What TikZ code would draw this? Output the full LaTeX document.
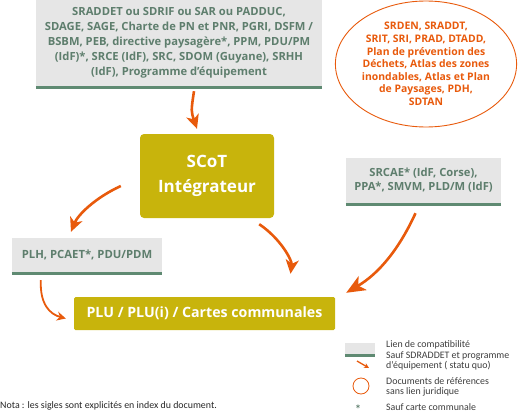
\documentclass[tikz,border=0pt]{standalone}
\usepackage{fontspec}
\setmainfont{Open Sans}
\newfontfamily\legfont{Carlito}
\usetikzlibrary{arrows.meta,shapes.geometric,calc}
\definecolor{grayfill}{HTML}{E6E6E6}
\definecolor{barGreen}{HTML}{5F8A72}
\definecolor{txtGreen}{HTML}{5E7E6D}
\definecolor{olive}{HTML}{C8B40C}
\definecolor{orng}{HTML}{E85A0C}
\definecolor{legtxt}{HTML}{3C3C3C}
\tikzset{
  graybox/.style={fill=grayfill, draw=none, inner sep=0pt, align=center, text=txtGreen, font=\bfseries},
  olivebox/.style={fill=olive, draw=none, rounded corners=4pt, inner sep=0pt, align=center, text=white, font=\bfseries},
  gbar/.style={draw=barGreen, line width=3pt},
  conn/.style={draw=orng, line width=2.6pt, -{Stealth[length=14pt,width=13pt,inset=4pt]}},
  bigconn/.style={draw=orng, line width=2.6pt, -{Stealth[length=19pt,width=16pt,inset=5pt]}},
  thinconn/.style={draw=orng, line width=1.8pt, -{Stealth[length=9pt,width=9pt,inset=3pt]}},
  legtext/.style={font=\legfont\fontsize{9.9}{10.5}\selectfont, text=legtxt, anchor=west, align=left, inner sep=0pt},
}
\begin{document}
\begin{tikzpicture}[x=1pt,y=-1pt]
\useasboundingbox (0,0) rectangle (523,415);
% top box
\node[graybox, minimum width=286pt, minimum height=86pt, font=\bfseries\fontsize{11.2}{15}\selectfont] (top) at (179,43)
 {SRADDET ou SDRIF ou SAR ou PADDUC,\\SDAGE, SAGE, Charte de PN et PNR, PGRI, DSFM /\\BSBM, PEB, directive paysagère*, PPM, PDU/PM\\(IdF)*, SRCE (IdF), SRC, SDOM (Guyane), SRHH\\(IdF), Programme d’équipement};
\draw[gbar] ($(top.south west)+(0,1.5)$) -- ($(top.south east)+(0,1.5)$);
% circle
\node[ellipse, draw=orng, line width=0.9pt, minimum width=136pt, minimum height=126pt, inner sep=0pt, align=center, text=orng, font=\bfseries\fontsize{10.4}{12.6}\selectfont] (ref) at (426,64)
 {SRDEN, SRADDT,\\SRIT, SRI, PRAD, DTADD,\\Plan de prévention des\\Déchets, Atlas des zones\\inondables, Atlas et Plan\\de Paysages, PDH,\\SDTAN};
% SCoT
\node[olivebox, minimum width=134pt, minimum height=84pt, font=\bfseries\fontsize{17}{25}\selectfont] (scot) at (207,176) {SCoT\\Intégrateur};
% SRCAE
\node[graybox, minimum width=155pt, minimum height=45pt, font=\bfseries\fontsize{11.2}{14}\selectfont] (srcae) at (423.5,180.5)
 {SRCAE* (IdF, Corse),\\PPA*, SMVM, PLD/M (IdF)};
\draw[gbar] ($(srcae.south west)+(0,1.5)$) -- ($(srcae.south east)+(0,1.5)$);
% PLH
\node[graybox, minimum width=150pt, minimum height=34pt, font=\bfseries\fontsize{11.3}{12}\selectfont] (plh) at (87,255) {PLH, PCAET*, PDU/PDM};
\draw[gbar] ($(plh.south west)+(0,1.5)$) -- ($(plh.south east)+(0,1.5)$);
% PLU
\node[olivebox, rounded corners=1.5pt, minimum width=261pt, minimum height=33pt, font=\bfseries\fontsize{14.2}{16}\selectfont] (plu) at (204.5,313.5) {PLU / PLU(i) / Cartes communales};
% connectors
\draw[conn] ($(top.south)+(15,5)$) .. controls ($(top.south)+(12,25)$) .. ($(scot.north)+(-10,-5)$);
\draw[conn] ($(scot.west)+(-19,10)$) .. controls ($(scot.west)+(-45,22)$) and ($(scot.west)+(-62,39)$) .. ($(plh.north)+(-16,-6)$);
\draw[conn] ($(scot.south east)+(-15,6)$) .. controls ($(scot.south east)+(6,20)$) and ($(scot.south east)+(18,42)$) .. ($(plu.north)+(86,-23)$);
\draw[bigconn] ($(srcae.south)+(-8,10)$) .. controls ($(srcae.south)+(-24,45)$) and ($(srcae.south)+(-44,70)$) .. ($(plu.north east)+(11,-4)$);
\draw[thinconn] ($(plh.south west)+(29,8)$) .. controls ($(plh.south west)+(28,32)$) and ($(plh.south west)+(38,42)$) .. ($(plu.west)+(-8,5)$);
% legend
\node[fill=grayfill, minimum width=30pt, minimum height=12pt, inner sep=0pt] (lbox) at (360,349) {};
\draw[gbar] ($(lbox.south west)+(0,0.5)$) -- ($(lbox.south east)+(0,0.5)$);
\coordinate (la) at (357,361);
\coordinate (lb) at (369,368);
\draw[draw=orng, line width=1.3pt, -{Stealth[length=5pt,width=5pt]}] (la) -- (lb);
\node[legtext] (l1) at (386,355.5) {Lien de compatibilité\\Sauf SDRADDET et programme\\d’équipement ( statu quo)};
\node[circle, draw=orng, line width=0.8pt, minimum width=16pt, inner sep=0pt] (lcirc) at (361,386) {};
\node[legtext] (l2) at (386,387) {Documents de références\\sans lien juridique};
\node[text=txtGreen, font=\legfont\bfseries\fontsize{12}{12}\selectfont, inner sep=0pt] (lstar) at (358,409) {*};
\node[legtext] (l3) at (386,407) {Sauf carte communale};
\node[legtext, text=black!85] (nota) at (0,406) {Nota : les sigles sont explicités en index du document.};
\end{tikzpicture}
\end{document}
